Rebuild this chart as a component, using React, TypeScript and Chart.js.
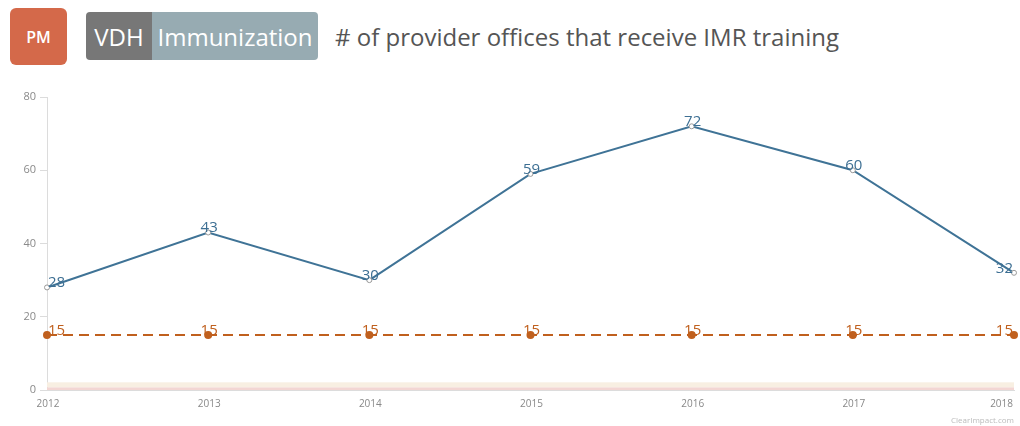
import React, { useEffect, useRef } from "react";
import { Chart, registerables } from "chart.js";
Chart.register(...registerables);

const years = ["2012", "2013", "2014", "2015", "2016", "2017", "2018"];
const actual = [28, 43, 30, 59, 72, 60, 32];
const target = [15, 15, 15, 15, 15, 15, 15];
const yTicks = [0, 20, 40, 60, 80];

const BLUE = "#3f7396";
const ORANGE = "#c0601e";
const FONT = "'Open Sans', 'Noto Sans', sans-serif";

const labelPlugin = {
  id: "valueLabels",
  afterDatasetsDraw(chart: any) {
    const ctx = chart.ctx;
    const area = chart.chartArea;
    ctx.save();
    ctx.font = "15px " + FONT;
    ctx.textBaseline = "bottom";
    ctx.textAlign = "left";
    chart.data.datasets.forEach((ds: any, i: number) => {
      const meta = chart.getDatasetMeta(i);
      ctx.fillStyle = ds.labelColor;
      meta.data.forEach((pt: any, j: number) => {
        const txt = String(ds.data[j]);
        const w = ctx.measureText(txt).width;
        let x = pt.x + 1 - w / 2;
        if (x < area.left + 1) x = area.left + 1;
        if (x + w > area.right - 1) x = area.right - 1 - w;
        ctx.fillText(txt, x, pt.y + 3);
      });
    });
    // x-axis labels
    const xs = chart.scales.x;
    ctx.font = "10px " + FONT;
    ctx.fillStyle = "#888888";
    ctx.textBaseline = "middle";
    chart.data.labels.forEach((lab: string, j: number) => {
      const w = ctx.measureText(lab).width;
      let x = xs.getPixelForTick(j) + 1 - w / 2;
      if (x + w > chart.width - 7) x = chart.width - 7 - w;
      ctx.fillText(lab, x, area.bottom + 14);
    });
    ctx.restore();
  },
};

const bandPlugin = {
  id: "bands",
  beforeDatasetsDraw(chart: any) {
    const ctx = chart.ctx;
    const area = chart.chartArea;
    const y = chart.scales.y;
    ctx.save();
    ctx.fillStyle = "#f8efe2";
    ctx.fillRect(area.left, y.getPixelForValue(2.1), area.right - area.left, y.getPixelForValue(0.7) - y.getPixelForValue(2.1));
    ctx.fillStyle = "#f3d6d3";
    ctx.fillRect(area.left, y.getPixelForValue(0.7), area.right - area.left, y.getPixelForValue(0) - y.getPixelForValue(0.7));
    ctx.restore();
  },
};

export default function App() {
  const ref = useRef<HTMLCanvasElement>(null);
  useEffect(() => {
    const chart = new Chart(ref.current!, {
      type: "line",
      data: {
        labels: years,
        datasets: [
          {
            label: "Actual",
            data: actual,
            borderColor: BLUE,
            borderWidth: 2,
            pointRadius: 2.5,
            pointBackgroundColor: "#ffffff",
            pointBorderColor: "#999999",
            pointBorderWidth: 1,
            tension: 0,
            labelColor: "#3d6f93",
          } as any,
          {
            label: "Target",
            data: target,
            borderColor: ORANGE,
            borderWidth: 2,
            borderDash: [10, 6],
            pointRadius: 3,
            pointBackgroundColor: ORANGE,
            pointBorderColor: ORANGE,
            tension: 0,
            labelColor: "#c0601e",
          } as any,
        ],
      },
      options: {
        animation: false,
        responsive: false,
        maintainAspectRatio: false,
        clip: false as any,
        layout: { padding: { top: 17, right: 6, left: 0, bottom: 0 } },
        plugins: { legend: { display: false }, tooltip: { enabled: false } },
        scales: {
          x: {
            offset: false,
            grid: { display: false },
            border: { display: true, color: "#dcdcdc", width: 1 },
            ticks: { display: false },
            afterFit(scale: any) {
              scale.height = 36;
              scale.paddingLeft = 0;
              scale.paddingRight = 0;
            },
          },
          y: {
            min: 0,
            max: 80,
            afterBuildTicks(scale: any) {
              scale.ticks = yTicks.map((v) => ({ value: v }));
            },
            grid: {
              drawOnChartArea: false,
              drawTicks: true,
              tickLength: 7,
              color: "#dcdcdc",
            },
            border: { display: true, color: "#dcdcdc", width: 1 },
            ticks: {
              color: "#8a8a8a",
              font: { size: 11, family: FONT },
              padding: 4,
            },
            afterFit(scale: any) {
              scale.width = 47;
            },
          },
        },
      },
      plugins: [bandPlugin, labelPlugin],
    });
    return () => chart.destroy();
  }, []);

  return (
    <div style={{ position: "fixed", left: 0, top: 0, width: 1020, height: 426, background: "#fff", fontFamily: FONT }}>
      <div style={{ position: "absolute", left: 10, top: 8, width: 57, height: 57, background: "#d4694a", borderRadius: 6, color: "#fff", fontWeight: 600, fontSize: 16, display: "flex", alignItems: "center", justifyContent: "center" }}>PM</div>
      <div style={{ position: "absolute", left: 86, top: 12, height: 48, display: "flex", borderRadius: 4, overflow: "hidden", color: "#fff", fontSize: 24 }}>
        <div style={{ background: "#777777", width: 66, display: "flex", alignItems: "center", justifyContent: "center" }}>VDH</div>
        <div style={{ background: "#97abb2", width: 166, display: "flex", alignItems: "center", justifyContent: "center" }}>Immunization</div>
      </div>
      <div style={{ position: "absolute", left: 335, top: 12, height: 48, display: "flex", alignItems: "center", color: "#555555", fontSize: 24 }}># of provider offices that receive IMR training</div>
      <canvas ref={ref} width={1020} height={346} style={{ position: "absolute", left: 0, top: 80, width: 1020, height: 346 }} />
      <div style={{ position: "absolute", right: 6, top: 414, fontSize: 8, color: "#bbbbbb" }}>ClearImpact.com</div>
    </div>
  );
}
